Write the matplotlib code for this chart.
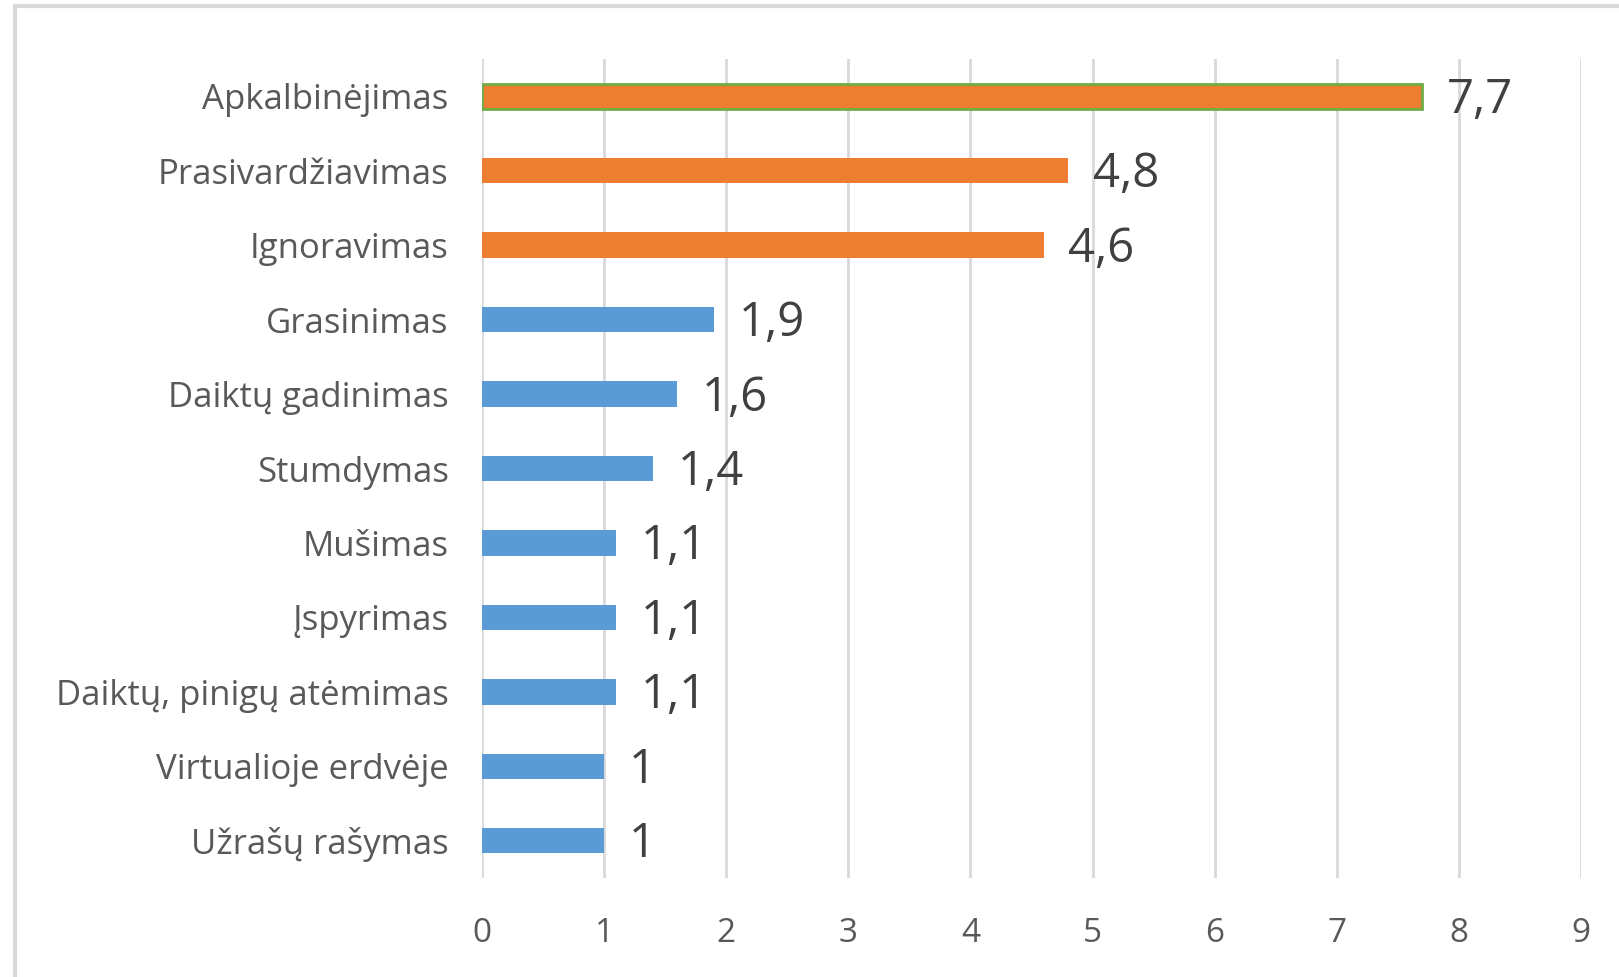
import matplotlib.pyplot as plt
from matplotlib.patches import Rectangle

# datos (de arriba hacia abajo)
categorias = ['Apkalbinėjimas', 'Prasivardžiavimas', 'Ignoravimas', 'Grasinimas',
              'Daiktų gadinimas', 'Stumdymas', 'Mušimas', 'Įspyrimas',
              'Daiktų, pinigų atėmimas', 'Virtualioje erdvėje', 'Užrašų rašymas']
valores = [7.7, 4.8, 4.6, 1.9, 1.6, 1.4, 1.1, 1.1, 1.1, 1.0, 1.0]
etiquetas = ['7,7', '4,8', '4,6', '1,9', '1,6', '1,4', '1,1', '1,1', '1,1', '1', '1']
ticks_x = list(range(0, 10))

naranja = '#ED7D31'
azul = '#5B9BD5'
verde = '#70AD47'
colores = [naranja] * 3 + [azul] * 8

plt.rcParams['font.family'] = ['Open Sans', 'DejaVu Sans']

fig = plt.figure(figsize=(16.19, 9.77), dpi=100)
ax = fig.add_axes([0.2977, 0.1013, 0.6788, 0.8383])

pos = list(range(len(categorias)))
barras = ax.barh(pos, valores, height=0.34, color=colores, zorder=3)
barras[0].set_edgecolor(verde)
barras[0].set_linewidth(2)

for p, v, t in zip(pos, valores, etiquetas):
    ax.text(v + 0.2, p + 0.05, t, va='center', ha='left', fontsize=34, color='#404040')

ax.set_xlim(0, 9)
ax.set_ylim(len(categorias) - 0.5, -0.5)
ax.set_xticks(ticks_x)
ax.set_yticks(pos)
ax.set_yticklabels(categorias, fontsize=25, color='#595959')
ax.tick_params(axis='x', labelsize=24, labelcolor='#595959', length=0, pad=28)
ax.tick_params(axis='y', length=0, pad=24)
ax.grid(axis='x', color='#d9d9d9', linewidth=2, zorder=0)
for s in ax.spines.values():
    s.set_visible(False)

# marco del gráfico
fig.patches.append(Rectangle((15 / 1619, -0.05), 1.1, 1 - 6 / 977 + 0.05,
                             transform=fig.transFigure, fill=False,
                             edgecolor='#d9d9d9', linewidth=3))

plt.savefig('out.png', dpi=100)
